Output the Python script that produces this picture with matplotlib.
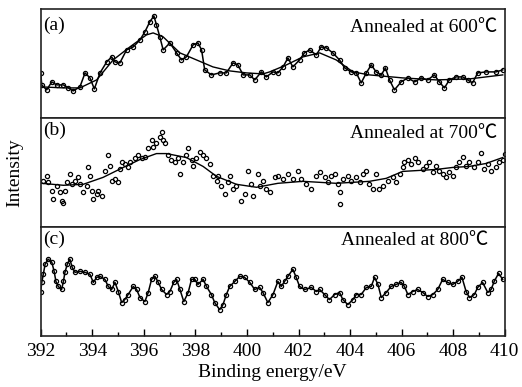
import matplotlib.pyplot as plt
import numpy as np

plt.rcParams['font.family'] = ['Liberation Serif', 'Noto Sans CJK SC', 'DejaVu Sans']

# (a) annealed at 600 C : measured points
E_a = [392.00, 392.04, 392.23, 392.43, 392.62, 392.88, 393.07, 393.26, 393.52, 393.72,
       393.91, 394.08, 394.30, 394.56, 394.75, 394.88, 395.07, 395.33, 395.59, 395.85,
       396.04, 396.23, 396.39, 396.49, 396.62, 396.75, 397.01, 397.27, 397.46, 397.65,
       397.91, 398.10, 398.24, 398.36, 398.62, 398.94, 399.20, 399.46, 399.65, 399.85,
       400.11, 400.30, 400.56, 400.75, 401.01, 401.20, 401.40, 401.59, 401.78, 402.04,
       402.23, 402.43, 402.69, 402.88, 403.08, 403.33, 403.59, 403.79, 404.04, 404.24,
       404.43, 404.63, 404.82, 405.01, 405.21, 405.37, 405.53, 405.72, 405.98, 406.24,
       406.50, 406.76, 407.01, 407.27, 407.46, 407.66, 407.85, 408.11, 408.37, 408.56,
       408.75, 408.95, 409.27, 409.66, 409.92]
I_a = [45, 33, 28, 36, 33, 33, 30, 27, 31, 45,
       40, 29, 45, 56, 61, 56, 55, 68, 71, 78,
       86, 96, 102, 93, 81, 68, 75, 65, 58, 61,
       73, 75, 68, 48, 43, 45, 45, 55, 53, 43,
       43, 38, 46, 41, 46, 45, 51, 60, 51, 58,
       65, 68, 63, 71, 70, 65, 58, 50, 46, 45,
       35, 45, 53, 46, 43, 50, 38, 28, 36, 40,
       36, 40, 38, 43, 36, 30, 38, 41, 41, 38,
       35, 45, 46, 46, 48]
# (a) fitted curve
Efit_a = [392.04, 392.88, 393.52, 394.17, 394.81, 395.46, 396.10, 396.36, 396.75, 397.40,
          398.04, 398.68, 399.33, 399.98, 400.62, 400.88, 401.53, 402.17, 402.82, 403.46,
          404.11, 404.75, 406.04, 407.34, 408.63, 409.92]
Ifit_a = [31, 30, 30, 38, 58, 71, 83, 85, 81, 65,
          58, 51, 47, 45, 44, 46, 53, 61, 65, 58,
          46, 43, 40, 38, 39, 43]

# (b) annealed at 700 C
E_b = [392.10, 392.23, 392.29, 392.43, 392.49, 392.62, 392.75, 392.81, 392.88, 392.94,
       393.01, 393.13, 393.20, 393.33, 393.46, 393.52, 393.65, 393.78, 393.84, 393.91,
       393.98, 394.04, 394.17, 394.23, 394.36, 394.49, 394.62, 394.68, 394.75, 394.88,
       395.01, 395.07, 395.14, 395.26, 395.39, 395.46, 395.65, 395.78, 395.91, 396.04,
       396.17, 396.30, 396.36, 396.49, 396.62, 396.69, 396.75, 396.81, 396.94, 397.07,
       397.20, 397.33, 397.40, 397.52, 397.65, 397.72, 397.85, 397.91, 398.04, 398.17,
       398.30, 398.43, 398.56, 398.68, 398.82, 398.88, 399.01, 399.14, 399.27, 399.33,
       399.46, 399.59, 399.78, 399.91, 400.04, 400.17, 400.23, 400.43, 400.49, 400.62,
       400.75, 400.88, 401.07, 401.20, 401.40, 401.59, 401.78, 401.98, 402.11, 402.30,
       402.50, 402.69, 402.82, 403.01, 403.14, 403.27, 403.40, 403.53, 403.59, 403.62,
       403.72, 403.91, 404.04, 404.24, 404.37, 404.49, 404.63, 404.75, 404.88, 405.01,
       405.14, 405.27, 405.46, 405.66, 405.79, 405.92, 406.04, 406.11, 406.24, 406.37,
       406.50, 406.62, 406.82, 406.95, 407.08, 407.21, 407.34, 407.46, 407.59, 407.72,
       407.85, 407.98, 408.11, 408.24, 408.37, 408.50, 408.62, 408.82, 408.95, 409.08,
       409.21, 409.34, 409.47, 409.66, 409.79, 409.92, 409.99]
I_b = [46, 51, 45, 36, 28, 41, 35, 26, 24, 36,
       45, 53, 43, 46, 50, 43, 35, 41, 60, 51,
       36, 28, 33, 36, 31, 56, 73, 61, 46, 48,
       45, 58, 66, 63, 60, 65, 70, 73, 70, 71,
       80, 88, 81, 85, 91, 96, 88, 85, 73, 68,
       65, 70, 53, 65, 73, 80, 68, 61, 70, 76,
       73, 70, 63, 51, 46, 51, 41, 33, 45, 51,
       38, 41, 26, 33, 56, 43, 31, 53, 41, 46,
       38, 35, 50, 51, 48, 53, 48, 56, 48, 43,
       38, 51, 55, 50, 45, 51, 53, 43, 35, 23,
       48, 51, 46, 50, 45, 53, 56, 43, 38, 53,
       38, 41, 46, 50, 45, 53, 60, 65, 68, 63,
       70, 66, 58, 61, 65, 55, 61, 56, 53, 50,
       55, 51, 60, 65, 71, 61, 65, 60, 66, 75,
       58, 63, 56, 60, 65, 68, 74]
Efit_b = [392.04, 392.88, 393.65, 394.42, 395.20, 395.85, 396.49, 396.88, 397.65, 398.30,
          398.82, 399.59, 400.37, 401.20, 402.17, 403.46, 404.75, 405.40, 406.04, 406.69,
          407.34, 407.98, 408.62, 409.27, 409.92]
Ifit_b = [44, 42, 43, 50, 60, 68, 74, 74, 70, 61,
          51, 43, 40, 44, 46, 44, 46, 49, 56, 57,
          58, 60, 61, 64, 70]

# (c) annealed at 800 C
E_c = [392.00, 392.04, 392.10, 392.17, 392.29, 392.43, 392.52, 392.59, 392.68, 392.81,
       392.88, 392.94, 393.03, 393.13, 393.22, 393.33, 393.52, 393.72, 393.91, 394.04,
       394.17, 394.30, 394.49, 394.62, 394.75, 394.88, 395.01, 395.14, 395.26, 395.39,
       395.59, 395.72, 395.85, 396.04, 396.17, 396.30, 396.43, 396.56, 396.69, 396.88,
       397.01, 397.16, 397.27, 397.40, 397.55, 397.72, 397.85, 397.98, 398.10, 398.30,
       398.43, 398.62, 398.75, 398.94, 399.07, 399.20, 399.33, 399.53, 399.72, 399.91,
       400.11, 400.30, 400.49, 400.62, 400.81, 401.01, 401.20, 401.33, 401.46, 401.59,
       401.78, 401.91, 402.04, 402.24, 402.50, 402.69, 402.82, 403.01, 403.20, 403.40,
       403.59, 403.72, 403.91, 404.11, 404.24, 404.43, 404.63, 404.82, 404.95, 405.08,
       405.21, 405.40, 405.59, 405.79, 405.98, 406.11, 406.24, 406.43, 406.62, 406.82,
       407.01, 407.21, 407.40, 407.59, 407.79, 407.98, 408.17, 408.34, 408.50, 408.63,
       408.82, 408.95, 409.14, 409.34, 409.47, 409.59, 409.76, 409.92]
I_c = [44, 53, 61, 71, 76, 73, 64, 54, 49, 46,
       54, 63, 71, 76, 68, 63, 64, 63, 61, 53,
       58, 59, 56, 49, 46, 53, 44, 33, 36, 41,
       49, 46, 38, 34, 43, 56, 59, 53, 46, 41,
       44, 53, 56, 46, 34, 43, 56, 56, 51, 56,
       49, 41, 33, 26, 31, 41, 49, 54, 59, 58,
       53, 46, 48, 43, 33, 41, 54, 49, 54, 59,
       66, 58, 49, 46, 48, 44, 46, 41, 36, 41,
       43, 36, 31, 36, 41, 41, 48, 49, 58, 51,
       38, 43, 49, 51, 53, 49, 41, 44, 46, 43,
       39, 41, 46, 56, 53, 51, 54, 58, 44, 38,
       41, 48, 53, 43, 46, 54, 62, 56]

panels = [
    (E_a, I_a, Efit_a, Ifit_a, '(a)', 'Annealed at 600℃', 109, 0.983, 0.826, 0.849),
    (E_b, I_b, Efit_b, Ifit_b, '(b)', 'Annealed at 700℃', 110, 0.983, 0.86, 0.886),
    (E_c, I_c, None, None, '(c)', 'Annealed at 800℃', 108, 0.964, 0.875, 0.884),
]

fig, axes = plt.subplots(3, 1, sharex=True, figsize=(5.22, 3.87), dpi=100)
fig.subplots_adjust(left=0.078, right=0.967, top=0.977, bottom=0.132, hspace=0)

for ax, (E, I, Ef, If, tag, txt, ytop, tx, ty, tagy) in zip(axes, panels):
    if tag != '(b)':
        ax.plot(E, I, '-', color='k', lw=1.1)
    ax.plot(E, I, 'o', ms=3.0, mfc='none', mec='k', mew=0.9)
    if Ef is not None:
        ax.plot(Ef, If, '-', color='k', lw=1.0)
    ax.set_ylim(0, ytop)
    ax.set_yticks([])
    ax.text(0.006, tagy, tag, transform=ax.transAxes, ha='left', va='center', fontsize=14)
    ax.text(tx, ty, txt, transform=ax.transAxes, ha='right', va='center', fontsize=14)
    for s in ax.spines.values():
        s.set_linewidth(1.2)
        s.set_color('#222222')
    ax.tick_params(axis='x', which='both', bottom=False, top=False, labelbottom=False)

ax = axes[2]
ax.set_xlim(392, 410)
ax.set_xticks(np.arange(392, 411, 2))
ax.set_xticks(np.arange(393, 410, 2), minor=True)
ax.tick_params(axis='x', which='major', bottom=True, direction='in', length=5, width=1,
               labelbottom=True, labelsize=14, pad=5)
ax.tick_params(axis='x', which='minor', bottom=True, direction='in', length=3, width=1)
ax.set_xlabel('Binding energy/eV', fontsize=14, labelpad=3)

fig.text(0.029, 0.554, 'Intensity', rotation=90, ha='center', va='center', fontsize=14)

plt.savefig('out.png', dpi=100)
